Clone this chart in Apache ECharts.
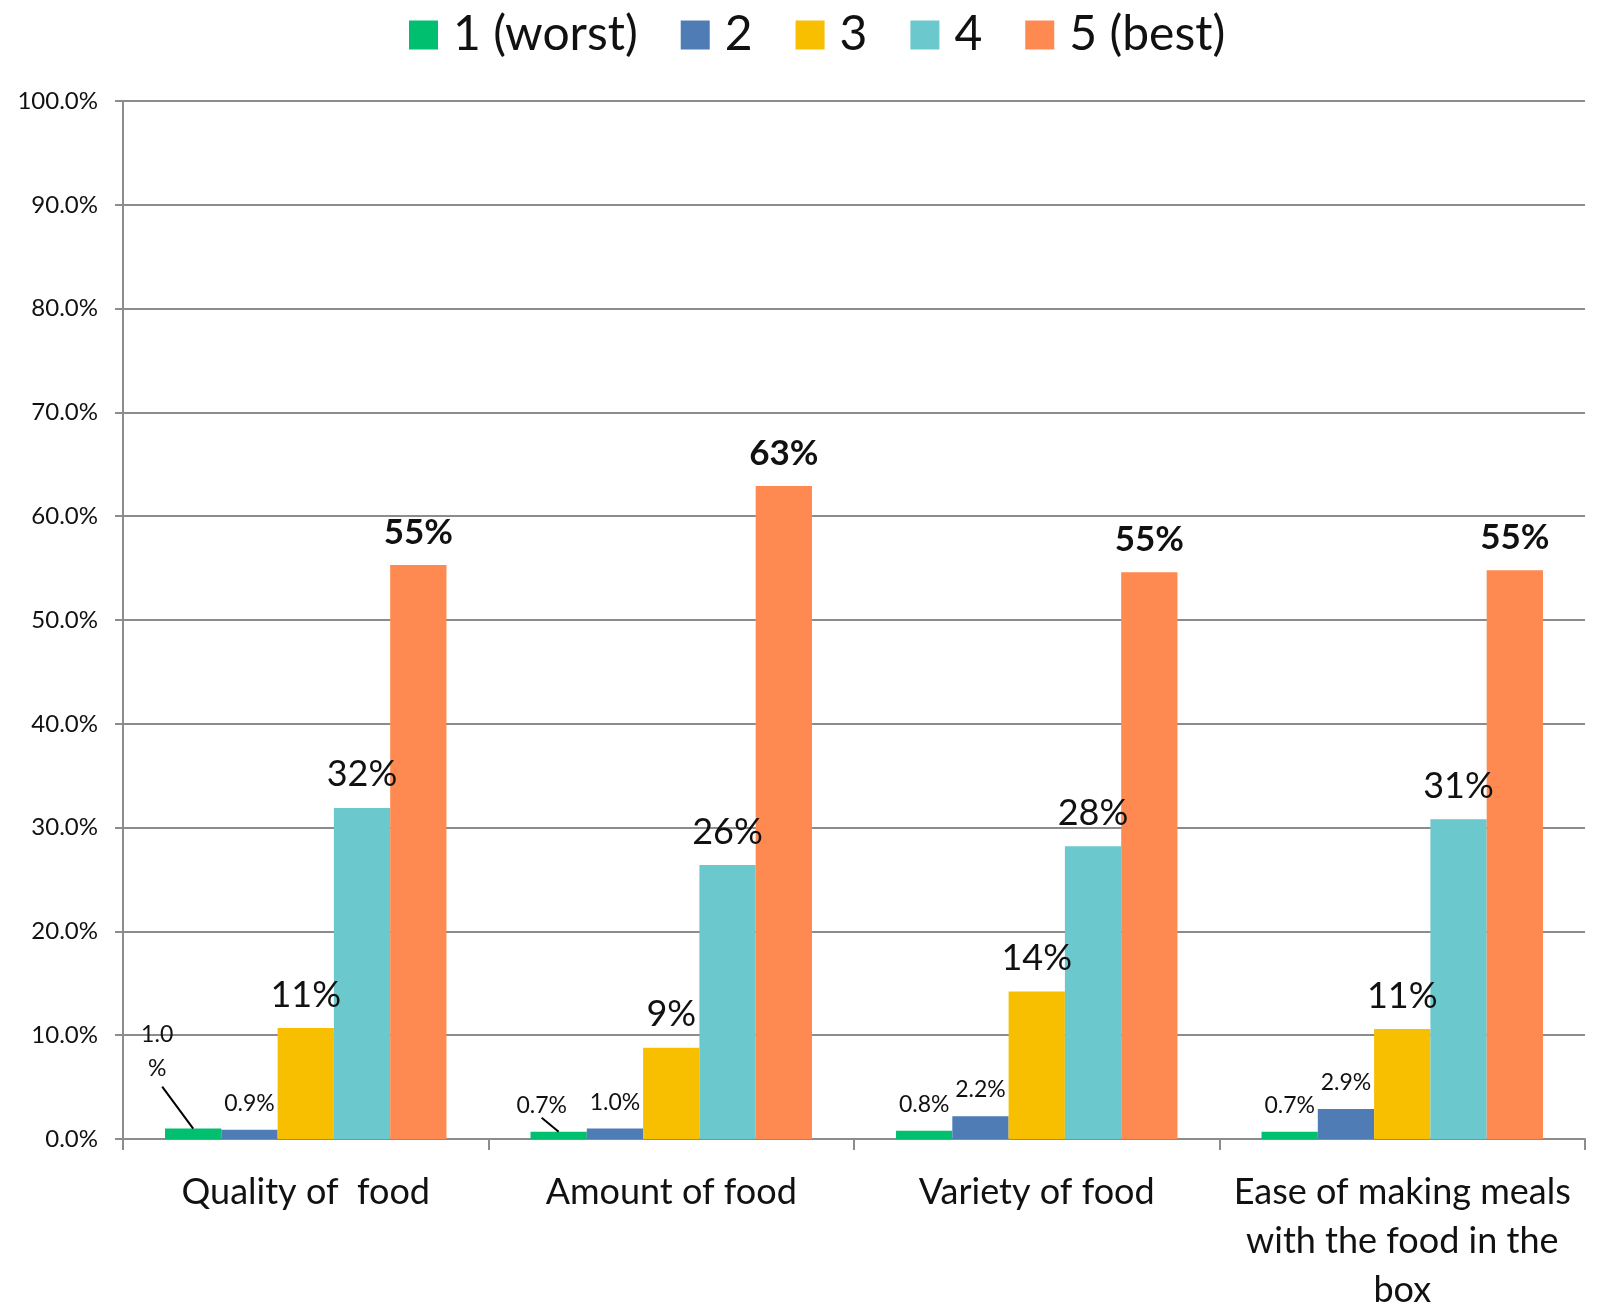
<!DOCTYPE html>
<html>
<head>
<meta charset="utf-8">
<script src="https://cdn.jsdelivr.net/npm/echarts@6/dist/echarts.min.js"></script>
<style>
  html, body { margin: 0; padding: 0; background: #fff; }
  #chart { width: 1598px; height: 1305px; }
</style>
</head>
<body>
<div id="chart"></div>
<script>
const categories = ['Quality of  food', 'Amount of food', 'Variety of food', 'Ease of making meals\nwith the food in the\nbox']
const seriesNames = ['1 (worst)', '2', '3', '4', '5 (best)']
const worst = [1.0, 0.7, 0.8, 0.7]
const rating2 = [0.9, 1.0, 2.2, 2.9]
const rating3 = [10.7, 8.8, 14.2, 10.6]
const rating4 = [31.9, 26.4, 28.2, 30.8]
const best = [55.3, 62.9, 54.6, 54.8]
const yTicks = [0, 10, 20, 30, 40, 50, 60, 70, 80, 90, 100]

const colors = ['#00bf6f', '#4f7cb4', '#f8bf00', '#6bc8cd', '#fe8a51']
const font = 'Lato, "Open Sans", sans-serif'

const chart = echarts.init(document.getElementById('chart'))

function smallLabel() {
  return {
    show: true,
    position: 'top',
    distance: 15,
    fontFamily: font,
    fontSize: 23,
    color: '#111',
    formatter: (p) => p.value.toFixed(1) + '%'
  }
}

function bigLabel(bold) {
  return {
    show: true,
    position: 'top',
    distance: 15,
    fontFamily: font,
    fontSize: bold ? 35 : 36,
    fontWeight: bold ? 'bold' : 'normal',
    color: '#111',
    formatter: (p) => Math.round(p.value) + '%'
  }
}

// the two moved labels of "1 (worst)" get a leader line to the bar top
const moved = {
  0: { dx: -36, dy: -28, lx: 5, ly: 1 },
  1: { dx: -17, dy: 0, lx: 0, ly: 1 }
}
const leaders = {}

const worstData = worst.map((v, i) => {
  if (i === 0) return { value: v, label: { formatter: '1.0\n%', lineHeight: 34 } }
  return v
})

function worstLayout(params) {
  const m = moved[params.dataIndex]
  if (!m) return {}
  const lr = params.labelRect
  const r = params.rect
  leaders[params.dataIndex] = [
    lr.x + lr.width / 2 + m.dx + m.lx,
    lr.y + lr.height + m.dy + m.ly,
    r.x + r.width / 2,
    Math.min(r.y, r.y + r.height)
  ]
  return { dx: m.dx, dy: m.dy }
}

const series = [worstData, rating2, rating3, rating4, best].map((d, i) => ({
  name: seriesNames[i],
  type: 'bar',
  data: d,
  barGap: '0%',
  barCategoryGap: '23%',
  itemStyle: { color: colors[i] },
  label: i < 2 ? smallLabel() : bigLabel(i === 4),
  labelLayout: i === 0 ? worstLayout : undefined
}))

chart.setOption({
  animation: false,
  color: colors,
  legend: {
    top: 6,
    left: 404,
    itemWidth: 29,
    itemHeight: 29,
    itemGap: 43,
    icon: 'rect',
    textStyle: { fontFamily: font, fontSize: 48, color: '#111', padding: [0, 0, 0, 10] }
  },
  grid: { left: 123, right: 13, top: 101, bottom: 166, containLabel: false, outerBoundsMode: 'none' },
  xAxis: {
    type: 'category',
    data: categories,
    axisLine: { lineStyle: { color: '#8c8c8c', width: 2 } },
    axisTick: { show: true, length: 11, lineStyle: { color: '#8c8c8c', width: 2 } },
    axisLabel: {
      fontFamily: font,
      fontSize: 36,
      color: '#111',
      margin: 29,
      lineHeight: 49,
      interval: 0
    }
  },
  yAxis: {
    type: 'value',
    min: yTicks[0],
    max: yTicks[yTicks.length - 1],
    interval: 10,
    axisLine: { show: true, lineStyle: { color: '#8c8c8c', width: 2 } },
    axisTick: { show: true, length: 8, lineStyle: { color: '#8c8c8c', width: 2 } },
    splitLine: { lineStyle: { color: '#8c8c8c', width: 2 } },
    axisLabel: {
      fontFamily: font,
      fontSize: 24,
      color: '#111',
      margin: 25,
      formatter: (v) => v.toFixed(1) + '%'
    }
  },
  series
})

// leader lines, from the positions the label layout reported
chart.setOption({
  graphic: Object.keys(leaders).map((k) => {
    const [x1, y1, x2, y2] = leaders[k]
    return {
      type: 'line',
      silent: true,
      z: 10,
      shape: { x1, y1, x2, y2 },
      style: { stroke: '#000', lineWidth: 2 }
    }
  })
})
</script>
</body>
</html>
